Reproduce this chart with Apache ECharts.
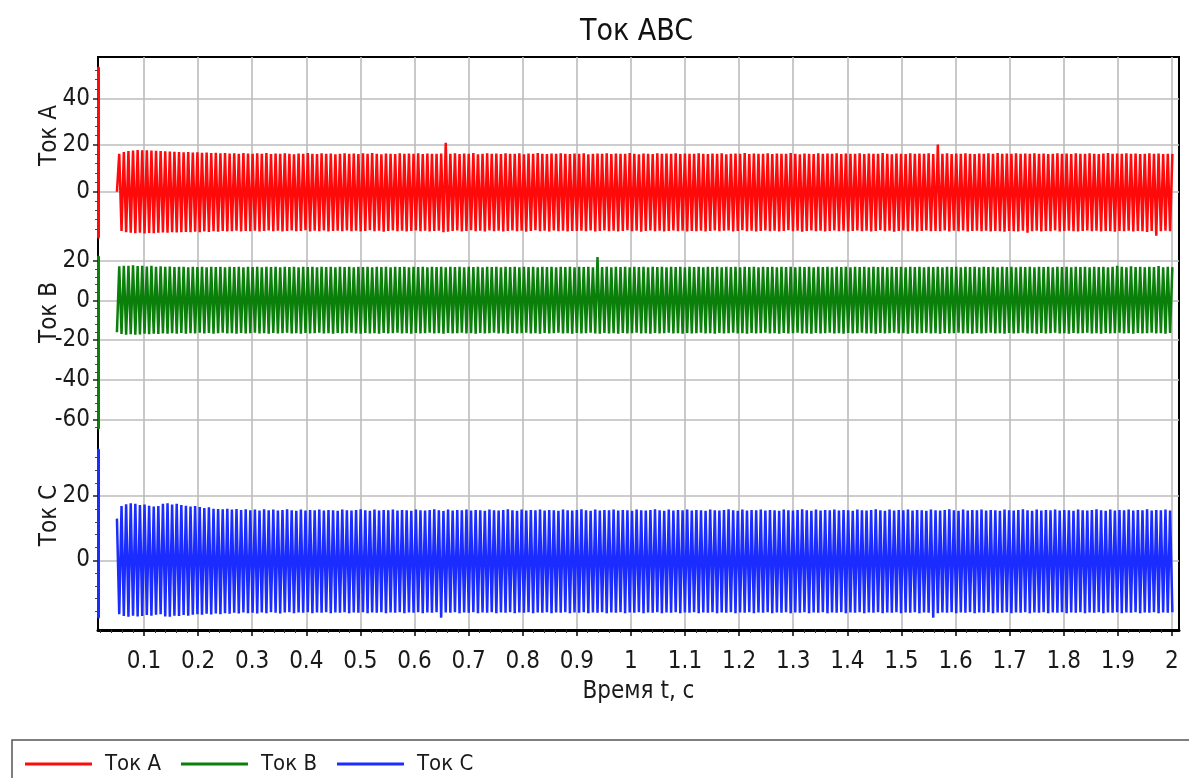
<!DOCTYPE html>
<html>
<head>
<meta charset="utf-8">
<title>Ток ABC</title>
<script src="https://cdn.jsdelivr.net/npm/echarts@6/dist/echarts.min.js"></script>
<style>
  html, body { margin: 0; padding: 0; background: #fff; }
  #chart { width: 1189px; height: 778px; }
</style>
</head>
<body>
<div id="chart"></div>
<script>
// Sampling grid of the recorded phase currents (successive extremes)
const T_START = 0.05;    // s
const T_STEP = 0.00425;  // s between successive extremes

// Phase current A, A
const currentA = [
  0, 16.2, -16.8, 17.0, -17.3, 17.4, -17.6, 17.6, -17.8, 17.9, -17.6, 17.8, -17.9, 17.7, -17.7, 17.6, -17.8, 17.5, -17.6, 17.4,
  -17.5, 17.3, -17.6, 17.2, -17.4, 17.1, -17.5, 17.0, -17.3, 16.9, -17.2, 17.0, -17.4, 16.8, -17.1, 16.9, -17.3, 16.7, -17.0, 16.8,
  -17.2, 16.6, -16.9, 16.7, -17.1, 16.5, -16.8, 16.6, -17.0, 16.4, -16.9, 16.5, -16.7, 16.3, -17.0, 16.6, -16.8, 16.4, -16.9, 16.2,
  -16.7, 16.5, -17.0, 16.3, -16.8, 16.6, -16.6, 16.1, -16.9, 16.4, -16.7, 16.2, -17.0, 16.5, -16.8, 16.3, -16.6, 16.0, -16.9, 16.4,
  -16.8, 16.2, -16.5, 16.6, -17.0, 16.3, -16.7, 16.1, -16.9, 16.5, -16.6, 16.2, -17.0, 16.4, -16.8, 16.0, -16.7, 16.3, -16.9, 16.5,
  -16.6, 16.2, -16.9, 16.4, -16.7, 16.1, -17.0, 16.5, -16.8, 16.3, -16.5, 16.6, -16.9, 16.2, -16.7, 16.0, -17.1, 16.4, -16.8, 16.3,
  -16.6, 16.1, -16.9, 16.5, -16.7, 16.2, -17.0, 16.4, -16.8, 16.3, -16.6, 16.5, -16.9, 16.1, -16.7, 16.4, -17.0, 16.2, -16.8, 16.3,
  -16.7, 16.4, -17.3, 21.0, -17.1, 16.2, -16.8, 16.5, -16.6, 16.1, -17.0, 16.4, -16.8, 16.2, -16.5, 16.6, -16.9, 16.0, -16.7, 16.3,
  -17.0, 16.5, -16.6, 16.2, -16.9, 16.4, -16.7, 16.1, -17.0, 16.5, -16.8, 16.3, -16.6, 16.2, -16.9, 16.5, -16.7, 16.0, -17.1, 16.4,
  -16.8, 16.2, -16.5, 16.6, -16.9, 16.3, -16.7, 16.1, -17.0, 16.4, -16.6, 16.2, -16.9, 16.5, -16.7, 16.3, -17.0, 16.1, -16.8, 16.4,
  -16.8, 16.2, -16.7, 16.5, -16.9, 16.0, -16.6, 16.3, -17.0, 16.4, -16.8, 16.2, -16.6, 16.5, -16.9, 16.1, -16.7, 16.4, -17.0, 16.2,
  -16.8, 16.3, -16.5, 16.6, -16.9, 16.2, -16.7, 16.0, -17.1, 16.4, -16.8, 16.3, -16.6, 16.1, -16.9, 16.5, -16.7, 16.2, -17.0, 16.4,
  -16.8, 16.3, -16.6, 16.5, -16.9, 16.1, -16.7, 16.4, -17.0, 16.2, -16.8, 16.3, -16.9, 16.5, -16.7, 16.3, -17.0, 16.1, -16.8, 16.4,
  -16.6, 16.2, -16.9, 16.5, -16.7, 16.0, -16.6, 16.3, -17.0, 16.4, -16.8, 16.2, -16.5, 16.6, -16.9, 16.1, -16.7, 16.4, -17.0, 16.2,
  -16.8, 16.3, -16.6, 16.5, -16.9, 16.1, -16.7, 16.4, -17.0, 16.2, -16.8, 16.3, -16.5, 16.6, -16.9, 16.2, -16.7, 16.0, -17.1, 16.4,
  -16.8, 16.3, -16.6, 16.1, -16.9, 16.5, -16.7, 16.2, -17.0, 16.4, -16.8, 16.3, -16.6, 16.5, -16.9, 16.1, -16.7, 16.4, -17.0, 16.2,
  -16.8, 16.3, -16.6, 16.5, -16.9, 16.1, -16.7, 16.4, -17.0, 16.2, -16.8, 16.3, -16.5, 16.6, -16.9, 16.2, -16.7, 16.0, -17.1, 16.4,
  -16.8, 16.3, -16.6, 16.1, -16.9, 16.5, -16.7, 16.2, -17.0, 16.4, -16.8, 16.3, -16.6, 16.5, -16.9, 16.1, -16.8, 20.2, -16.9, 16.3,
  -16.6, 16.5, -17.0, 16.1, -16.7, 16.4, -16.9, 16.2, -16.6, 16.5, -17.0, 16.3, -16.8, 16.1, -16.7, 16.4, -16.9, 16.2, -16.7, 16.5,
  -17.0, 16.3, -16.8, 16.6, -16.9, 16.2, -17.1, 16.4, -16.8, 16.3, -16.9, 16.5, -17.0, 16.2, -16.7, 16.4, -17.6, 16.3, -16.9, 16.5,
  -16.7, 16.2, -17.0, 16.4, -16.8, 16.1, -16.9, 16.3, -16.6, 16.5, -17.0, 16.2, -16.8, 16.4, -16.7, 16.1, -16.9, 16.5, -17.0, 16.3,
  -16.8, 16.2, -16.6, 16.5, -16.9, 16.3, -16.7, 16.1, -17.0, 16.4, -16.8, 16.6, -16.9, 16.2, -17.1, 16.4, -16.8, 16.3, -16.9, 16.5,
  -16.7, 16.2, -17.0, 16.4, -16.8, 16.1, -16.9, 16.3, -17.2, 16.5, -16.8, 16.2, -18.8, 16.4, -16.9, 16.1, -16.7, 16.3, -16.9, 16.2
];

// Phase current B, A
const currentB = [
  -16.0, 17.3, -16.9, 17.6, -17.2, 17.5, -17.0, 17.8, -17.3, 17.4, -17.1, 17.6, -16.8, 17.2, -17.0, 17.5, -16.7, 17.1, -16.9, 17.3,
  -16.6, 17.0, -16.8, 17.2, -16.5, 16.9, -16.7, 17.1, -16.4, 17.0, -16.7, 16.8, -16.5, 17.1, -16.6, 16.9, -16.3, 17.0, -16.6, 16.8,
  -16.4, 17.1, -16.7, 16.9, -16.5, 17.0, -16.3, 16.8, -16.6, 17.1, -16.5, 16.9, -16.7, 17.0, -16.4, 16.8, -16.6, 17.1, -16.5, 16.9,
  -16.3, 17.0, -16.6, 16.8, -16.5, 17.1, -16.7, 16.9, -16.4, 17.0, -16.6, 16.8, -16.5, 17.1, -16.3, 16.9, -16.6, 17.0, -16.5, 16.8,
  -16.7, 17.1, -16.4, 16.9, -16.6, 17.0, -16.5, 16.8, -16.3, 17.1, -16.6, 16.9, -16.5, 17.0, -16.7, 16.8, -16.4, 17.1, -16.6, 16.9,
  -16.5, 17.0, -16.3, 16.8, -16.6, 17.1, -16.8, 16.9, -16.4, 17.0, -16.6, 16.8, -16.5, 17.1, -16.7, 16.9, -16.4, 17.0, -16.6, 16.8,
  -16.5, 17.1, -16.3, 16.9, -16.6, 17.0, -16.5, 16.8, -16.7, 17.1, -16.4, 16.9, -16.6, 17.0, -16.5, 16.8, -16.3, 17.1, -16.6, 16.9,
  -16.5, 17.0, -16.7, 16.8, -16.4, 17.1, -16.6, 16.9, -16.5, 17.0, -16.3, 16.8, -16.6, 17.1, -16.5, 16.9, -16.7, 17.0, -16.4, 16.8,
  -16.6, 17.1, -16.5, 16.9, -16.3, 17.0, -16.6, 16.8, -16.5, 17.1, -16.7, 16.9, -16.4, 17.0, -16.6, 16.8, -16.5, 17.1, -16.3, 16.9,
  -16.6, 17.0, -16.5, 16.8, -16.7, 17.1, -16.4, 16.9, -16.6, 17.0, -16.5, 16.8, -16.3, 17.1, -16.6, 16.9, -16.5, 17.0, -16.7, 16.8,
  -16.4, 17.1, -16.6, 16.9, -16.5, 17.0, -16.3, 16.8, -16.6, 22.0, -16.8, 16.9, -16.4, 17.0, -16.6, 16.8, -16.5, 17.1, -16.7, 16.9,
  -16.4, 17.0, -16.6, 16.8, -16.5, 17.1, -16.3, 16.9, -16.6, 17.0, -16.5, 16.8, -16.7, 17.1, -16.4, 16.9, -16.6, 17.0, -16.5, 16.8,
  -16.3, 17.1, -16.6, 16.9, -16.5, 17.0, -16.7, 16.8, -16.4, 17.1, -16.6, 16.9, -16.5, 17.0, -16.3, 16.8, -16.6, 17.1, -16.5, 16.9,
  -16.7, 17.0, -16.4, 16.8, -16.6, 17.1, -16.5, 16.9, -16.3, 17.0, -16.6, 16.8, -16.5, 17.1, -16.7, 16.9, -16.4, 17.0, -16.6, 16.8,
  -16.5, 17.1, -16.3, 16.9, -16.6, 17.0, -16.5, 16.8, -16.7, 17.1, -16.4, 16.9, -16.6, 17.0, -16.5, 16.8, -16.3, 17.1, -16.6, 16.9,
  -16.5, 17.0, -16.7, 16.8, -16.4, 17.1, -16.6, 16.9, -16.5, 17.0, -16.3, 16.8, -16.6, 17.1, -16.5, 16.9, -16.7, 17.0, -16.4, 16.8,
  -16.6, 17.1, -16.5, 16.9, -16.3, 17.0, -16.6, 16.8, -16.5, 17.1, -16.7, 16.9, -16.4, 17.0, -16.6, 16.8, -16.5, 17.1, -16.3, 16.9,
  -16.6, 17.0, -16.5, 16.8, -16.7, 17.1, -16.4, 16.9, -16.6, 17.0, -16.5, 16.8, -16.3, 17.1, -16.6, 16.9, -16.5, 17.0, -16.7, 16.8,
  -16.4, 17.1, -16.6, 16.9, -16.5, 17.0, -16.3, 16.8, -16.6, 17.1, -16.5, 16.9, -16.7, 17.0, -16.4, 16.8, -16.6, 17.1, -16.5, 16.9,
  -16.3, 17.0, -16.6, 16.8, -16.5, 17.1, -16.7, 16.9, -16.4, 17.0, -16.6, 16.8, -16.5, 17.1, -16.3, 16.9, -16.6, 17.0, -16.5, 16.8,
  -16.7, 17.1, -16.4, 16.9, -16.6, 17.0, -16.5, 16.8, -16.3, 17.1, -16.6, 16.9, -16.5, 17.0, -16.7, 16.8, -16.4, 17.1, -16.6, 16.9,
  -16.5, 17.0, -16.3, 16.8, -16.6, 17.1, -16.5, 16.9, -16.7, 17.0, -16.4, 16.8, -16.6, 17.1, -16.5, 17.6, -16.3, 17.0, -16.6, 16.8,
  -16.5, 17.3, -16.7, 16.9, -16.4, 17.0, -16.6, 16.8, -16.5, 17.1, -16.3, 16.9, -16.6, 17.4, -16.5, 16.8, -16.7, 17.1, -16.4, 16.9
];

// Phase current C, A
const currentC = [
  13.0, -16.8, 16.9, -17.4, 17.5, -17.6, 17.8, -17.3, 17.6, -17.5, 17.2, -17.4, 17.4, -17.1, 17.0, -17.3, 16.8, -17.0, 16.9, -16.8,
  17.6, -17.5, 17.8, -17.6, 17.4, -17.3, 17.6, -17.4, 17.2, -17.1, 17.0, -17.3, 16.8, -17.0, 16.9, -16.8, 16.6, -17.0, 16.3, -16.7,
  16.5, -16.9, 16.1, -16.6, 16.0, -16.8, 15.9, -16.5, 16.1, -16.7, 15.8, -16.4, 16.0, -16.6, 15.7, -16.3, 15.9, -16.5, 15.6, -16.4,
  15.8, -16.6, 15.5, -16.3, 15.9, -16.5, 15.6, -16.2, 15.8, -16.4, 15.5, -16.6, 15.7, -16.3, 15.9, -16.2, 15.6, -16.5, 15.4, -16.3,
  15.8, -16.4, 15.5, -16.2, 15.7, -16.5, 15.6, -16.3, 15.8, -16.4, 15.5, -16.2, 15.7, -16.5, 15.6, -16.3, 15.4, -16.4, 15.8, -16.2,
  15.6, -16.5, 15.5, -16.3, 15.7, -16.4, 15.9, -16.2, 15.6, -16.5, 15.4, -16.3, 15.8, -16.4, 15.5, -16.2, 15.7, -16.5, 15.6, -16.3,
  15.8, -16.4, 15.5, -16.2, 15.7, -16.5, 15.6, -16.3, 15.4, -16.4, 15.8, -16.2, 15.6, -16.5, 15.5, -16.3, 15.7, -16.4, 15.9, -16.2,
  15.6, -17.9, 15.4, -16.3, 15.8, -16.4, 15.5, -16.2, 15.7, -16.5, 15.6, -16.3, 15.8, -16.4, 15.5, -16.2, 15.7, -16.5, 15.6, -16.3,
  15.4, -16.4, 15.8, -16.2, 15.6, -16.5, 15.5, -16.3, 15.7, -16.4, 15.9, -16.2, 15.6, -16.5, 15.4, -16.3, 15.8, -16.4, 15.5, -16.2,
  15.7, -16.5, 15.6, -16.3, 15.8, -16.4, 15.5, -16.2, 15.7, -16.5, 15.6, -16.3, 15.4, -16.4, 15.8, -16.2, 15.6, -16.5, 15.5, -16.3,
  15.7, -16.4, 15.9, -16.2, 15.6, -16.5, 15.4, -16.3, 15.8, -16.4, 15.5, -16.2, 15.7, -16.5, 15.6, -16.3, 15.8, -16.4, 15.5, -16.2,
  15.7, -16.5, 15.6, -16.3, 15.4, -16.4, 15.8, -16.2, 15.6, -16.5, 15.5, -16.3, 15.7, -16.4, 15.9, -16.2, 15.6, -16.5, 15.4, -16.3,
  15.8, -16.4, 15.5, -16.2, 15.7, -16.5, 15.6, -16.3, 15.8, -16.4, 15.5, -16.2, 15.7, -16.5, 15.6, -16.3, 15.4, -16.4, 15.8, -16.2,
  15.6, -16.5, 15.5, -16.3, 15.7, -16.4, 15.9, -16.2, 15.6, -16.5, 15.4, -16.3, 15.8, -16.4, 15.5, -16.2, 15.7, -16.5, 15.6, -16.3,
  15.8, -16.4, 15.5, -16.2, 15.7, -16.5, 15.6, -16.3, 15.4, -16.4, 15.8, -16.2, 15.6, -16.5, 15.5, -16.3, 15.7, -16.4, 15.9, -16.2,
  15.6, -16.5, 15.4, -16.3, 15.8, -16.4, 15.5, -16.2, 15.7, -16.5, 15.6, -16.3, 15.8, -16.4, 15.5, -16.2, 15.7, -16.5, 15.6, -16.3,
  15.4, -16.4, 15.8, -16.2, 15.6, -16.5, 15.5, -16.3, 15.7, -16.4, 15.9, -16.2, 15.6, -16.5, 15.4, -16.3, 15.8, -16.4, 15.5, -16.2,
  15.7, -16.5, 15.6, -16.3, 15.8, -16.4, 15.5, -16.2, 15.7, -16.5, 15.6, -16.3, 15.4, -16.4, 15.8, -17.9, 15.6, -16.5, 15.5, -16.3,
  15.7, -16.4, 15.9, -16.2, 15.6, -16.5, 15.4, -16.3, 15.8, -16.4, 15.5, -16.2, 15.7, -16.5, 15.6, -16.3, 15.8, -16.4, 15.5, -16.2,
  15.7, -16.5, 15.6, -16.3, 15.4, -16.4, 15.8, -16.2, 15.6, -16.5, 15.5, -16.3, 15.7, -16.4, 15.9, -16.2, 15.6, -16.5, 15.4, -16.3,
  15.8, -16.4, 15.5, -16.2, 15.7, -16.5, 15.6, -16.3, 15.8, -16.4, 15.5, -16.2, 15.7, -16.5, 15.6, -16.3, 15.4, -16.4, 15.8, -16.2,
  15.6, -16.5, 15.5, -16.3, 15.7, -16.4, 15.9, -16.2, 15.6, -16.5, 15.4, -16.3, 15.8, -16.4, 15.5, -16.2, 15.7, -16.5, 15.6, -16.3,
  15.8, -16.4, 15.5, -16.2, 15.7, -16.5, 15.6, -16.3, 15.9, -16.4, 15.5, -16.2, 15.7, -16.5, 15.6, -16.3, 15.8, -16.4, 15.5, -16.2
];

// Axis labels
const X_TICKS = [0.1, 0.2, 0.3, 0.4, 0.5, 0.6, 0.7, 0.8, 0.9, 1,
                 1.1, 1.2, 1.3, 1.4, 1.5, 1.6, 1.7, 1.8, 1.9, 2];
const Y_TICKS_A = [0, 20, 40];
const Y_TICKS_B = [-60, -40, -20, 0, 20];
const Y_TICKS_C = [0, 20];

const SERIES_NAMES = ['Ток A', 'Ток B', 'Ток C'];
const COLORS = ['#ff0a0a', '#0a7f0a', '#1a2cff'];

// Visible ranges of the three stacked panels and the shared time axis
const X_MIN = 0.015, X_MAX = 2.013;
const RANGE_A = [-19.4, 53];
const RANGE_B = [-64.4, 22];
const RANGE_C = [-17.7, 34.4];

const FONT = '"Liberation Sans Narrow", "DejaVu Sans Condensed", "Noto Sans", sans-serif';
const GRID_COLOR = '#bcbcbc';

function toPoints(values) {
  return values.map((v, i) => [+(T_START + i * T_STEP).toFixed(5), v]);
}

// Minor ticks: every `step` inside [lo, hi] except positions of major ticks
function minorTicks(lo, hi, step, majorStep) {
  const out = [];
  const k0 = Math.ceil(lo / step), k1 = Math.floor(hi / step);
  for (let k = k0; k <= k1; k++) {
    const v = +(k * step).toFixed(4);
    if (Math.abs(v / majorStep - Math.round(v / majorStep)) < 1e-6) continue;
    out.push(v);
  }
  return out;
}

const chart = echarts.init(document.getElementById('chart'), null, { renderer: 'canvas' });

const LEFT = 98, RIGHT = 10;
const panels = [
  { top: 68, height: 169, range: RANGE_A, ticks: Y_TICKS_A, pad: 34 },
  { top: 257, height: 171, range: RANGE_B, ticks: Y_TICKS_B, pad: 60 },
  { top: 450, height: 167, range: RANGE_C, ticks: Y_TICKS_C, pad: 36 }
];

const grids = panels.map(p => ({ left: LEFT, right: RIGHT, top: p.top, height: p.height }));
// Outer frame spanning all panels, carries the time axis
grids.push({
  left: LEFT, right: RIGHT, top: 57, height: 573,
  show: true, borderColor: '#000', borderWidth: 2, backgroundColor: 'transparent'
});

const xAxes = panels.map((p, i) => ({
  type: 'value', gridIndex: i, min: X_MIN, max: X_MAX, show: false
}));
xAxes.push({
  type: 'value', gridIndex: 3, min: X_MIN, max: X_MAX,
  axisLine: { show: true, onZero: false, lineStyle: { color: '#000', width: 3 } },
  axisTick: { show: true, customValues: X_TICKS, length: 6, lineStyle: { color: '#000', width: 1.5 } },
  axisLabel: {
    show: true, customValues: X_TICKS, margin: 20,
    fontFamily: FONT, fontSize: 24, color: '#1a1a1a',
    formatter: v => String(v)
  },
  splitLine: { show: true, lineStyle: { color: GRID_COLOR, width: 1.6 } },
  name: 'Время t, c', nameLocation: 'middle', nameGap: 50, nameMoveOverlap: false,
  nameTextStyle: { fontFamily: FONT, fontSize: 24, color: '#1a1a1a' }
});
xAxes.push({
  type: 'value', gridIndex: 3, min: X_MIN, max: X_MAX, position: 'bottom',
  axisLine: { show: false },
  axisTick: { show: true, customValues: minorTicks(X_MIN, X_MAX, 0.02, 0.1), length: 3, lineStyle: { color: '#333', width: 1 } },
  axisLabel: { show: false },
  splitLine: { show: false }
});

const yAxes = [];
panels.forEach((p, i) => {
  yAxes.push({
    type: 'value', gridIndex: i, position: 'left', min: p.range[0], max: p.range[1],
    axisLine: { show: true, onZero: false, lineStyle: { color: COLORS[i], width: 3 } },
    axisTick: { show: true, customValues: p.ticks, length: 5, lineStyle: { color: '#222', width: 1.5 } },
    axisLabel: {
      show: true, customValues: p.ticks, margin: 8,
      fontFamily: FONT, fontSize: 24, color: '#1a1a1a'
    },
    splitLine: { show: true, lineStyle: { color: GRID_COLOR, width: 1.6 } },
    name: SERIES_NAMES[i], nameLocation: 'middle', nameGap: 36, nameMoveOverlap: false,
    nameTextStyle: { fontFamily: FONT, fontSize: 24, color: '#1a1a1a', padding: [0, 0, 0, p.pad] }
  });
  yAxes.push({
    type: 'value', gridIndex: i, position: 'left', min: p.range[0], max: p.range[1],
    axisLine: { show: false },
    axisTick: { show: true, customValues: minorTicks(p.range[0], p.range[1], 4, 20), length: 3, lineStyle: { color: '#444', width: 1 } },
    axisLabel: { show: false },
    splitLine: { show: false }
  });
});
yAxes.push({ type: 'value', gridIndex: 3, min: 0, max: 1, show: false });

const seriesData = [currentA, currentB, currentC];
const series = seriesData.map((vals, i) => ({
  name: SERIES_NAMES[i],
  type: 'line',
  xAxisIndex: i,
  yAxisIndex: i * 2,
  data: toPoints(vals),
  showSymbol: false,
  symbol: 'none',
  lineStyle: { color: COLORS[i], width: 2.5 },
  itemStyle: { color: COLORS[i] },
  z: 3
}));

chart.setOption({
  animation: false,
  backgroundColor: '#fff',
  title: {
    text: 'Ток ABC', left: 575, top: 12,
    textStyle: { fontFamily: FONT, fontSize: 30, fontWeight: 'normal', color: '#111' }
  },
  legend: {
    left: 20, top: 748,
    data: SERIES_NAMES,
    icon: 'rect', itemWidth: 67, itemHeight: 3, itemGap: 20,
    textStyle: { fontFamily: FONT, fontSize: 22, color: '#1a1a1a', padding: [0, 0, 0, 8] }
  },
  graphic: [{
    type: 'rect', silent: true,
    shape: { x: 12, y: 740, width: 1200, height: 60 },
    style: { fill: 'transparent', stroke: '#555', lineWidth: 1.5 }
  }],
  grid: grids,
  xAxis: xAxes,
  yAxis: yAxes,
  series: series
});
</script>
</body>
</html>
